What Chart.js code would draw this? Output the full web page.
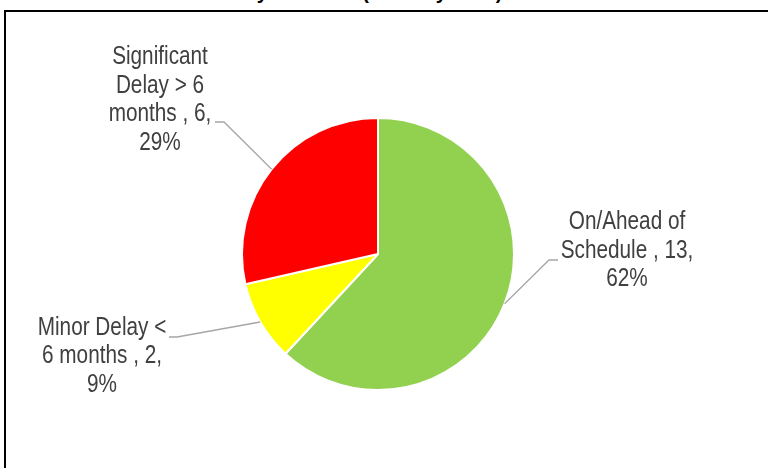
<!DOCTYPE html>
<html>
<head>
<meta charset="utf-8">
<script src="https://cdn.jsdelivr.net/npm/chart.js@4.4.0/dist/chart.umd.min.js"></script>
<style>
    html, body { margin: 0; padding: 0; background: #fff; overflow: hidden; }
    #wrap { position: relative; width: 768px; height: 468px; overflow: hidden; }
    #frame { position: absolute; left: 4px; top: 10px; width: 820px; height: 520px; border: 2px solid #000; }
    #title { position: absolute; left: 190px; top: -18px; font: bold 20px "Liberation Sans", Arial, sans-serif;
             line-height: 20px; color: #000; white-space: nowrap; }
    canvas { position: absolute; left: 0; top: 0; }
</style>
</head>
<body>
<div id="wrap">
    <div id="frame"></div>
    <div id="title">Delivery Forecast (Delivery Date)</div>
    <canvas id="scheduleChart" width="768" height="468"></canvas>
</div>
<script>
// Schedule status of the projects, in clockwise order from 12 o'clock
const categories = ['On/Ahead of Schedule', 'Minor Delay < 6 months', 'Significant Delay > 6 months'];
const projectCounts = [13, 2, 6];
const percentLabels = ['62%', '9%', '29%'];
const sliceColors = ['#92D050', '#FFFF00', '#FF0000'];

// Word wrap a label into lines no wider than maxWidth (after the horizontal squeeze)
function wrapText(ctx, text, maxWidth, squeeze) {
    const words = text.split(' ');
    const lines = [];
    let line = '';
    words.forEach(word => {
        const test = line ? line + ' ' + word : word;
        if (line && ctx.measureText(test).width * squeeze > maxWidth) {
            lines.push(line);
            line = word;
        } else {
            line = test;
        }
    });
    if (line) lines.push(line);
    return lines;
}

// Excel style data labels with bent leader lines
const sliceLabels = {
    id: 'sliceLabels',
    afterDatasetsDraw(chart, args, opts) {
        const ctx = chart.ctx;
        const meta = chart.getDatasetMeta(0);
        ctx.save();
        ctx.font = opts.font;
        meta.data.forEach((arc, i) => {
            const spot = opts.spots[i];
            const mid = (arc.startAngle + arc.endAngle) / 2;
            const r = arc.outerRadius;
            const px = arc.x + Math.cos(mid) * r;
            const py = arc.y + Math.sin(mid) * r;

            ctx.strokeStyle = opts.lineColor;
            ctx.lineWidth = 1.3;
            ctx.beginPath();
            ctx.moveTo(px, py);
            ctx.lineTo(spot.elbow[0], spot.elbow[1]);
            ctx.lineTo(spot.end[0], spot.end[1]);
            ctx.stroke();

            const text = `${categories[i]} , ${projectCounts[i]}, ${percentLabels[i]}`;
            const lines = wrapText(ctx, text, opts.maxWidth, opts.squeeze);
            ctx.fillStyle = opts.color;
            ctx.textAlign = 'center';
            ctx.textBaseline = 'middle';
            const top = spot.y - (lines.length - 1) * opts.lineHeight / 2;
            lines.forEach((l, k) => {
                ctx.save();
                ctx.translate(spot.x, top + k * opts.lineHeight);
                ctx.scale(opts.squeeze, 1);
                ctx.fillText(l, 0, 0);
                ctx.restore();
            });
        });
        ctx.restore();
    }
};

document.addEventListener('DOMContentLoaded', function() {
    const ctx = document.getElementById('scheduleChart').getContext('2d');
    new Chart(ctx, {
        type: 'pie',
        data: {
            labels: categories,
            datasets: [{
                data: projectCounts,
                backgroundColor: sliceColors,
                borderColor: '#FFFFFF',
                borderWidth: 2,
                radius: 136
            }]
        },
        options: {
            responsive: false,
            devicePixelRatio: 1,
            animation: false,
            layout: { padding: { left: 0, right: 12, top: 40, bottom: 0 } },
            plugins: {
                legend: { display: false },
                tooltip: { enabled: false },
                sliceLabels: {
                    font: '25px "Liberation Sans", Arial, sans-serif',
                    squeeze: 0.83,
                    color: '#404040',
                    lineColor: '#A6A6A6',
                    lineHeight: 28.5,
                    maxWidth: 135,
                    spots: [
                        { x: 627, y: 251, elbow: [549, 260], end: [558, 260] },
                        { x: 102, y: 356.5, elbow: [177, 337], end: [169, 337] },
                        { x: 160, y: 100, elbow: [224, 122], end: [215, 122] }
                    ]
                }
            }
        },
        plugins: [sliceLabels]
    });
});
</script>
</body>
</html>
